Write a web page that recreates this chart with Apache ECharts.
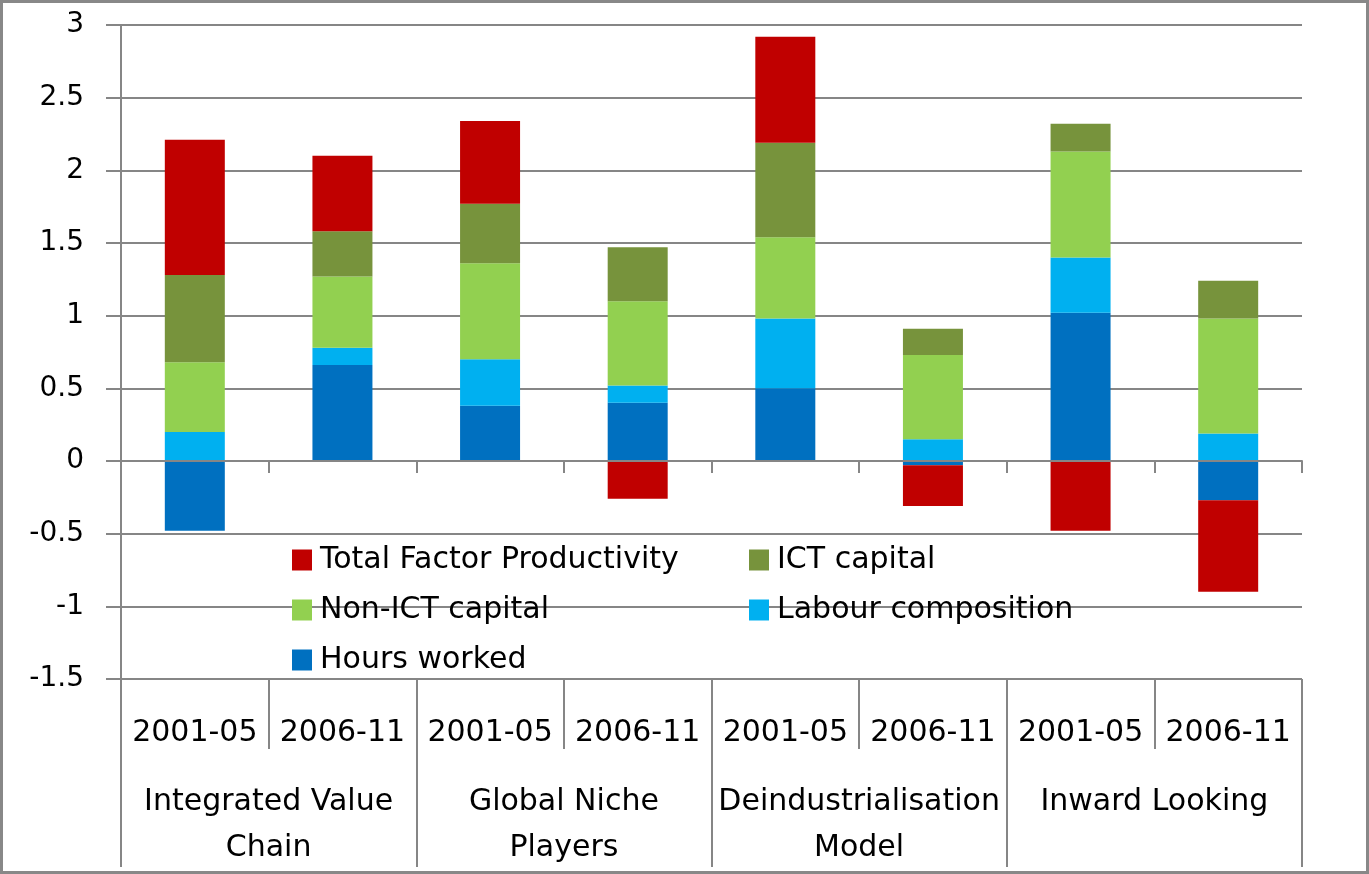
<!DOCTYPE html>
<html>
<head>
<meta charset="utf-8">
<script src="https://cdn.jsdelivr.net/npm/echarts@6/dist/echarts.min.js"></script>
<style>
html,body{margin:0;padding:0;background:#fff;}
#wrap{position:relative;width:1369px;height:874px;}
#chart{position:absolute;left:0;top:0;width:1369px;height:874px;}
#frame{position:absolute;left:0;top:0;width:1369px;height:874px;box-sizing:border-box;border:3px solid #888;pointer-events:none;}
</style>
</head>
<body>
<div id="wrap"><div id="chart"></div><div id="frame"></div></div>
<script>
// ---- data ----
const groups = ['Integrated Value\nChain', 'Global Niche\nPlayers', 'Deindustrialisation\nModel', 'Inward Looking'];
const periods = ['2001-05', '2006-11'];
const seriesNames = ['Hours worked', 'Labour composition', 'Non-ICT capital', 'ICT capital', 'Total Factor Productivity'];
const hoursWorked       = [-0.48, 0.66, 0.38, 0.40, 0.50, -0.03, 1.02, -0.27];
const labourComposition = [ 0.20, 0.12, 0.32, 0.12, 0.48,  0.15, 0.38,  0.19];
const nonICTCapital     = [ 0.48, 0.49, 0.66, 0.58, 0.56,  0.58, 0.73,  0.79];
const ictCapital        = [ 0.60, 0.31, 0.41, 0.37, 0.65,  0.18, 0.19,  0.26];
const tfp               = [ 0.93, 0.52, 0.57, -0.26, 0.73, -0.28, -0.48, -0.63];
const yMin = -1.5, yMax = 3, yStep = 0.5;

// ---- build ----
const categoryIds = [];
const periodLabels = [];
groups.forEach(g => periods.forEach(p => { categoryIds.push(g + '|' + p); periodLabels.push(p); }));

const colors = {
  'Hours worked': '#0070C0',
  'Labour composition': '#00B0F0',
  'Non-ICT capital': '#92D050',
  'ICT capital': '#77933C',
  'Total Factor Productivity': '#C00000'
};
const values = [hoursWorked, labourComposition, nonICTCapital, ictCapital, tfp];

const gridColor = '#868686';
const font = 'DejaVu Sans';

const chart = echarts.init(document.getElementById('chart'), null, {renderer: 'canvas'});
const option = {
  animation: false,
  textStyle: {fontFamily: font},
  grid: {left: 121, right: 67, top: 25, bottom: 195, containLabel: false, outerBoundsMode: 'none'},
  legend: [
    {
      orient: 'vertical', left: 292, top: 545, padding: 0,
      itemWidth: 20, itemHeight: 21, itemGap: 20, icon: 'rect',
      data: ['Total Factor Productivity', 'Non-ICT capital', 'Hours worked'],
      textStyle: {fontFamily: font, fontSize: 30, color: '#000', padding: [0, 0, 0, 3]}
    },
    {
      orient: 'vertical', left: 749, top: 545, padding: 0,
      itemWidth: 20, itemHeight: 21, itemGap: 20, icon: 'rect',
      data: ['ICT capital', 'Labour composition'],
      textStyle: {fontFamily: font, fontSize: 30, color: '#000', padding: [0, 0, 0, 3]}
    }
  ],
  xAxis: [
    {
      type: 'category', data: categoryIds, position: 'bottom', z: 10,
      axisLine: {show: true, onZero: true, lineStyle: {color: gridColor, width: 2}},
      axisTick: {show: true, length: 12, interval: 0, lineStyle: {color: gridColor, width: 2}},
      axisLabel: {show: false}, splitLine: {show: false}
    },
    {
      type: 'category', data: periodLabels, position: 'bottom',
      axisLine: {show: false, onZero: false},
      axisTick: {show: true, length: 70, interval: 0, lineStyle: {color: gridColor, width: 2}},
      axisLabel: {interval: 0, margin: 39, fontFamily: font, fontSize: 30, color: '#000'},
      splitLine: {show: false}
    },
    {
      type: 'category', data: groups, position: 'bottom',
      axisLine: {show: false, onZero: false},
      axisTick: {show: true, length: 188, interval: 0, lineStyle: {color: gridColor, width: 2}},
      axisLabel: {interval: 0, margin: 100, fontFamily: font, fontSize: 30, lineHeight: 46, color: '#000'},
      splitLine: {show: false}
    }
  ],
  yAxis: {
    type: 'value', min: yMin, max: yMax, interval: yStep,
    axisLine: {show: true, lineStyle: {color: gridColor, width: 2}},
    axisTick: {show: true, length: 15, lineStyle: {color: gridColor, width: 2}},
    axisLabel: {margin: 37, fontFamily: font, fontSize: 28, color: '#000'},
    splitLine: {show: true, lineStyle: {color: gridColor, width: 2}}
  },
  series: seriesNames.map((name, i) => ({
    name: name, type: 'bar', stack: 'total', xAxisIndex: 0,
    barWidth: 60,
    itemStyle: {color: colors[name]},
    data: values[i]
  }))
};
chart.setOption(option);
</script>
</body>
</html>
